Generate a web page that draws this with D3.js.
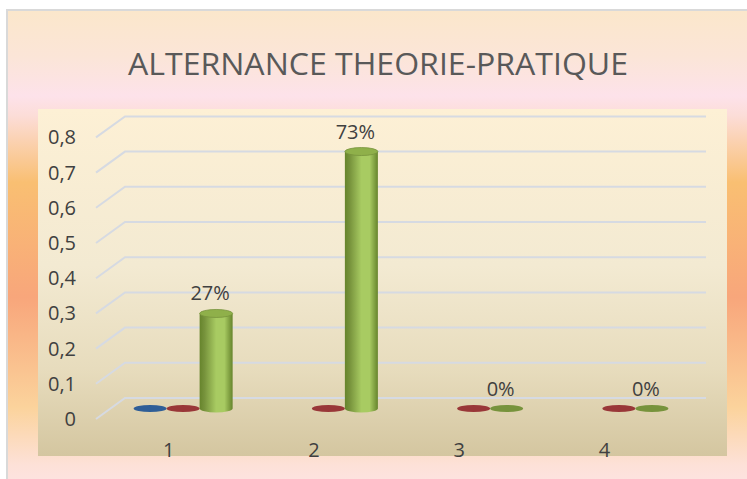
<!DOCTYPE html>
<html>
<head>
<meta charset="utf-8">
<script src="https://cdn.jsdelivr.net/npm/d3@7"></script>
<style>
  html, body { margin: 0; padding: 0; background: #ffffff; }
  svg { display: block; }
</style>
</head>
<body>
<svg id="chart" width="747" height="479"></svg>
<script>
// ---- data ----
const title = "ALTERNANCE THEORIE-PRATIQUE";
const categories = ["1", "2", "3", "4"];
const seriesNames = ["Série 1", "Série 2", "Série 3"];
const seriesBlue  = [0, null, null, null];
const seriesRed   = [0, 0, 0, 0];
const seriesGreen = [0.27, 0.73, 0, 0];
const yTicks = [0, 0.1, 0.2, 0.3, 0.4, 0.5, 0.6, 0.7, 0.8];
const labelledSeries = "Série 3";

const seriesValues = [seriesBlue, seriesRed, seriesGreen];
const seriesColors = [
  { flat: "#2f5e97", dark: "#24497a", light: "#4a7bbd", top: "#3d6ca8" },
  { flat: "#993738", dark: "#7a2627", light: "#c0504d", top: "#a84240" },
  { flat: "#77933c", dark: "#66842c", light: "#a8cb62", top: "#8fb04a" }
];

const svg = d3.select("#chart");
const W = 747, H = 479;
const defs = svg.append("defs");

// outer background gradient
const og = defs.append("linearGradient").attr("id", "outerGrad")
  .attr("x1", 0).attr("y1", 0).attr("x2", 0).attr("y2", 1);
[[0, "#fbe7cb"], [0.1, "#fbe5d8"], [0.18, "#fde2ea"], [0.22, "#fcddd8"],
 [0.36, "#f9bf72"], [0.6, "#f8a67b"], [0.83, "#fbd39c"], [0.95, "#fde1d8"], [1, "#fde3e4"]]
  .forEach(([o, c]) => og.append("stop").attr("offset", o).attr("stop-color", c));

// inner plot gradient
const ig = defs.append("linearGradient").attr("id", "innerGrad")
  .attr("x1", 0).attr("y1", 0).attr("x2", 0).attr("y2", 1);
[[0, "#fdf0d5"], [0.45, "#f3ead2"], [0.75, "#e7dcbd"], [1, "#d4c6a0"]]
  .forEach(([o, c]) => ig.append("stop").attr("offset", o).attr("stop-color", c));

// cylinder gradients
seriesColors.forEach((c, i) => {
  const g = defs.append("linearGradient").attr("id", "cyl" + i)
    .attr("x1", 0).attr("y1", 0).attr("x2", 1).attr("y2", 0);
  [[0, c.dark], [0.15, c.flat], [0.5, c.light], [0.75, c.light], [1, c.dark]]
    .forEach(([o, col]) => g.append("stop").attr("offset", o).attr("stop-color", col));
});

// frame
svg.append("rect").attr("x", 7).attr("y", 10).attr("width", W).attr("height", H)
  .attr("fill", "url(#outerGrad)").attr("stroke", "#d9d9d9").attr("stroke-width", 2);

// inner plot area
const inner = { x0: 38, y0: 109, x1: 727, y1: 456 };
svg.append("rect").attr("x", inner.x0).attr("y", inner.y0)
  .attr("width", inner.x1 - inner.x0).attr("height", inner.y1 - inner.y0)
  .attr("fill", "url(#innerGrad)");

// title
svg.append("text").attr("x", 378).attr("y", 75)
  .attr("text-anchor", "middle")
  .attr("font-family", "'Open Sans', 'Noto Sans', sans-serif")
  .attr("font-size", 31).attr("fill", "#595959")
  .attr("textLength", 500).attr("lengthAdjust", "spacingAndGlyphs")
  .text(title);

// scales (front plane)
const frontX0 = 96, frontX1 = 677;
const depthX = 29, depthY = -21;        // full depth offset (front -> back wall)
const y = d3.scaleLinear().domain([0, 0.8]).range([419, 137.4]);
const x = d3.scaleBand().domain(categories).range([frontX0, frontX1]).padding(0);
const xs = d3.scaleBand().domain(seriesNames).range([-49.5, 49.5]).padding(0);

// gridlines (3D: front-left diagonal then back wall horizontal)
const grid = svg.append("g");
yTicks.forEach(t => {
  const yf = y(t);
  grid.append("path")
    .attr("d", `M${frontX0},${yf} L${frontX0 + depthX},${yf + depthY} L${frontX1 + depthX},${yf + depthY}`)
    .attr("fill", "none").attr("stroke", "#d6dae2").attr("stroke-width", 2);
});

// y-axis labels
const fmtTick = d => d === 0 ? "0" : d3.format(".1f")(d).replace(".", ",");
svg.append("g").selectAll("text").data(yTicks).join("text")
  .attr("x", 76).attr("y", d => y(d)).attr("dy", "0.35em")
  .attr("text-anchor", "end")
  .attr("font-family", "'Open Sans', sans-serif").attr("font-size", 20)
  .attr("fill", "#404040")
  .text(fmtTick);

// category labels
svg.append("g").selectAll("text").data(categories).join("text")
  .attr("x", d => x(d) + x.bandwidth() / 2).attr("y", 457)
  .attr("text-anchor", "middle")
  .attr("font-family", "'Open Sans', sans-serif").attr("font-size", 20)
  .attr("fill", "#404040")
  .text(d => d);

// bars (cylinders) at mid depth
const midDX = depthX / 2, midDY = depthY / 2;
const rx = 16.5, ry = 4;
const bars = svg.append("g");
const labelData = [];
seriesNames.forEach((s, si) => {
  seriesValues[si].forEach((v, ci) => {
    if (v === null || v === undefined) return;
    const cx = x(categories[ci]) + x.bandwidth() / 2 + xs(s) + xs.bandwidth() / 2 + midDX;
    const yBase = y(0) + midDY;
    const yTop = y(v) + midDY;
    const col = seriesColors[si];
    if (v > 0) {
      bars.append("path")
        .attr("d", `M${cx - rx},${yTop} L${cx - rx},${yBase} A${rx},${ry} 0 0 0 ${cx + rx},${yBase} L${cx + rx},${yTop} Z`)
        .attr("fill", `url(#cyl${si})`);
      bars.append("ellipse").attr("cx", cx).attr("cy", yTop).attr("rx", rx).attr("ry", ry)
        .attr("fill", col.top).attr("stroke", col.flat).attr("stroke-width", 0.8);
    } else {
      bars.append("ellipse").attr("cx", cx).attr("cy", yBase).attr("rx", rx).attr("ry", 3.6)
        .attr("fill", col.flat);
    }
    if (s === labelledSeries) labelData.push({ cx, yTop, v });
  });
});

// data labels
svg.append("g").selectAll("text").data(labelData).join("text")
  .attr("x", d => d.cx - 6).attr("y", d => d.yTop - 20).attr("dy", "0.35em")
  .attr("text-anchor", "middle")
  .attr("font-family", "'Open Sans', sans-serif").attr("font-size", 20)
  .attr("fill", "#404040")
  .text(d => d3.format(".0%")(d.v));
</script>
</body>
</html>
